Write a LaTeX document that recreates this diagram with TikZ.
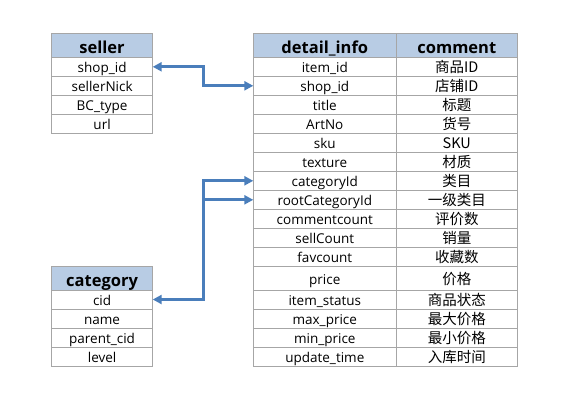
\documentclass[tikz,border=0pt]{standalone}
\usepackage{fontspec}
\setmainfont{Open Sans}
\newfontfamily\cjk{Noto Sans CJK SC}
\usetikzlibrary{arrows.meta}
\definecolor{hdr}{HTML}{B8CCE4}
\definecolor{gridc}{HTML}{A6A6A6}
\definecolor{arr}{HTML}{4A7EBB}
\begin{document}
\begin{tikzpicture}[x=1pt,y=-1pt,
  cell/.style={draw=gridc, line width=0.9pt, minimum height=19pt, inner sep=0pt, outer sep=0pt,
    text height=13pt, text depth=1pt,
    font=\fontsize{13.5}{13.5}\selectfont, text=black},
  zcell/.style={cell, font=\fontsize{14.5}{14.5}\selectfont\cjk},
  hcell/.style={cell, fill=hdr, minimum height=24pt, text height=17.5pt, text depth=0.5pt,
    font=\fontsize{16.5}{16.5}\selectfont\bfseries},
  sw/.style={minimum width=101.2pt},
  dw/.style={minimum width=143pt},
  cw/.style={minimum width=121pt},
  tip/.tip={Triangle[length=9pt,width=9pt]},
  link/.style={draw=arr, line width=3pt}]
\useasboundingbox (0,0) rectangle (562,413);
% seller
\node[hcell,sw] (sh) at (102.1,45.3) {seller};
\node[cell,sw] (s1) at (102.1,66.8) {shop\_id};
\node[cell,sw] (s2) at (102.1,85.8) {sellerNick};
\node[cell,sw] (s3) at (102.1,104.8) {BC\_type};
\node[cell,sw] (s4) at (102.1,123.8) {url};
% category
\node[hcell,sw] (ch) at (102.1,278.2) {category};
\node[cell,sw] (c1) at (102.1,299.5) {cid};
\node[cell,sw] (c2) at (102.1,318.5) {name};
\node[cell,sw] (c3) at (102.1,337.5) {parent\_cid};
\node[cell,sw] (c4) at (102.1,356.5) {level};
% detail_info
\node[hcell,dw] (dh) at (324.8,45.3) {detail\_info};
\node[hcell,cw] (mh) at (456.8,45.3) {comment};
\foreach \i/\y/\a/\b in {1/66.8/item\_id/商品ID, 2/85.8/shop\_id/店铺ID, 3/104.8/title/标题,
  4/123.8/ArtNo/货号, 5/142.8/sku/SKU, 6/161.8/texture/材质, 7/180.8/categoryId/类目,
  8/199.8/rootCategoryId/一级类目, 9/218.8/commentcount/评价数, 10/237.8/sellCount/销量,
  11/256.8/favcount/收藏数, 13/299.5/item\_status/商品状态, 14/318.5/max\_price/最大价格,
  15/337.5/min\_price/最小价格, 16/356.5/update\_time/入库时间}{
  \node[cell,dw] (d\i) at (324.8,\y) {\a};
  \node[zcell,cw] (m\i) at (456.8,\y) {\b};
}
\node[cell,dw,minimum height=23.7pt] (d12) at (324.8,278.15) {price};
\node[zcell,cw,minimum height=23.7pt] (m12) at (456.8,278.15) {价格};
% connectors
\coordinate (kx) at (203,0);
\draw[link, tip-tip] (s1.east) -- (s1.east -| kx) |- (d2.west);
\draw[link, tip-tip] (c1.east) -- (c1.east -| kx) |- (d7.west);
\draw[link, -tip] (c1.east -| kx) |- (d8.west);
\end{tikzpicture}
\end{document}
